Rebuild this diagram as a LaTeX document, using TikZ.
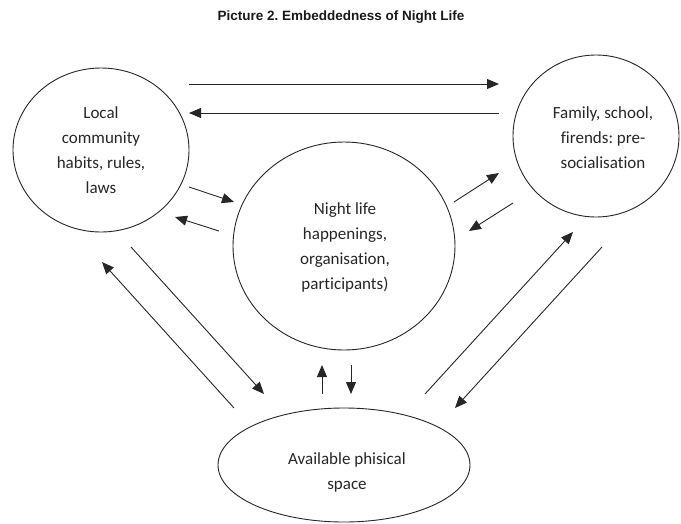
\documentclass[tikz,border=0pt]{standalone}
\usepackage{fontspec}
\setmainfont{Carlito}[Ligatures=NoCommon]
\newfontfamily\titlefont{Liberation Sans}
\usetikzlibrary{arrows.meta}
\frenchspacing
\begin{document}
\begin{tikzpicture}[x=1pt,y=-1pt,
  circ/.style={draw=black!85,line width=0.9pt},
  lbl/.style={font=\fontsize{17}{25}\selectfont,align=center,text=black!85},
  conn/.style={draw=black!85,line width=0.9pt,-{Triangle[length=12pt,width=10pt]}}]
\useasboundingbox (0,0) rectangle (681,523);
\node[font=\titlefont\bfseries\fontsize{13.5}{15}\selectfont,text=black!90] (title) at (341,17) {Picture 2. Embeddedness of Night Life};
% shapes
\draw[circ] (101,150) ellipse [x radius=88,y radius=82];
\draw[circ] (596,136) ellipse [x radius=83,y radius=81];
\draw[circ] (344,246) ellipse [x radius=111,y radius=104];
\draw[circ] (344,465) ellipse [x radius=126,y radius=57];
\node[lbl] (local) at (101,150) {Local\\community\\habits, rules,\\laws};
\node[lbl] (family) at (603,138) {Family, school,\\firends: pre-\\socialisation};
\node[lbl] (night) at (345,247) {Night life\\happenings,\\organisation,\\participants)};
\node[lbl] (space) at (347,472) {Available phisical\\space};
% connector end points
\coordinate (a1) at (189,84);  \coordinate (a2) at (499,84);
\coordinate (b1) at (499,113); \coordinate (b2) at (189,113);
\coordinate (c1) at (189,187); \coordinate (c2) at (234,202);
\coordinate (d1) at (219,231); \coordinate (d2) at (175,217);
\coordinate (e1) at (454,202); \coordinate (e2) at (499,173);
\coordinate (f1) at (513,203); \coordinate (f2) at (469,231);
\coordinate (g1) at (131,247); \coordinate (g2) at (264,394);
\coordinate (h1) at (234,408); \coordinate (h2) at (102,262);
\coordinate (i1) at (322,394); \coordinate (i2) at (322,365);
\coordinate (j1) at (351,365); \coordinate (j2) at (351,394);
\coordinate (k1) at (425,394); \coordinate (k2) at (573,232);
\coordinate (l1) at (602,247); \coordinate (l2) at (455,408);
\foreach \s in {a,b,c,d,e,f,g,h,i,j,k,l} \draw[conn] (\s1) -- (\s2);
\end{tikzpicture}
\end{document}
